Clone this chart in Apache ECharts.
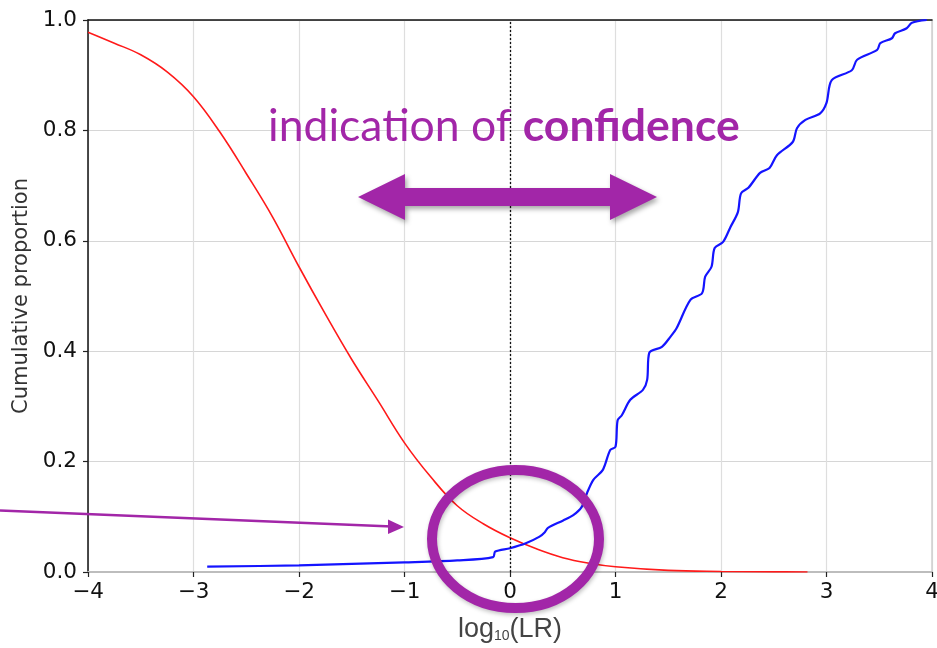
<!DOCTYPE html>
<html>
<head>
<meta charset="utf-8">
<script src="https://cdn.jsdelivr.net/npm/echarts@6/dist/echarts.min.js"></script>
<style>
  html, body { margin: 0; padding: 0; background: #fff; overflow: hidden; }
  #chart { width: 937px; height: 648px; }
</style>
</head>
<body>
<div id="chart"></div>
<script>
// Cumulative proportion of log10(LR) values for two populations
const redX = [-4, -3.75, -3.5, -3.25, -3.0, -2.75, -2.5, -2.25, -2.0, -1.75, -1.5, -1.25, -1.0, -0.75, -0.5, -0.25, 0.0, 0.25, 0.5, 0.75, 1.0, 1.5, 2.0, 2.5, 2.82];
const redY = [0.978, 0.958, 0.937, 0.906, 0.861, 0.797, 0.722, 0.643, 0.553, 0.467, 0.385, 0.31, 0.234, 0.172, 0.12, 0.087, 0.062, 0.042, 0.026, 0.016, 0.0096, 0.003, 0.001, 0.0003, 0.0];

const blueX = [-2.87, -2.0, -1.0, -0.5, -0.16, -0.14, 0.0, 0.15, 0.28, 0.33, 0.36, 0.5, 0.6, 0.68, 0.73, 0.79, 0.88, 0.95, 1.0, 1.02, 1.06, 1.14, 1.26, 1.30, 1.32, 1.44, 1.52, 1.58, 1.71, 1.82, 1.85, 1.91, 1.94, 2.02, 2.09, 2.16, 2.19, 2.26, 2.37, 2.46, 2.53, 2.68, 2.72, 2.80, 2.94, 3.0, 3.05, 3.24, 3.29, 3.48, 3.51, 3.62, 3.65, 3.76, 3.81, 3.95];
const blueY = [0.0097, 0.012, 0.0175, 0.021, 0.027, 0.037, 0.043, 0.052, 0.064, 0.072, 0.08, 0.093, 0.103, 0.118, 0.143, 0.167, 0.185, 0.221, 0.227, 0.275, 0.284, 0.312, 0.33, 0.348, 0.397, 0.408, 0.426, 0.442, 0.493, 0.505, 0.535, 0.553, 0.587, 0.598, 0.625, 0.652, 0.686, 0.696, 0.723, 0.732, 0.755, 0.779, 0.804, 0.819, 0.831, 0.85, 0.891, 0.909, 0.928, 0.946, 0.958, 0.967, 0.976, 0.985, 0.995, 1.0];

const xTicks = [-4, -3, -2, -1, 0, 1, 2, 3, 4];
const yTicks = [0, 0.2, 0.4, 0.6, 0.8, 1.0];

const purple = '#a226a8';
const tickFont = 'DejaVu Sans';

const zip = (xs, ys) => xs.map((x, i) => [x, ys[i]]);

const chart = echarts.init(document.getElementById('chart'), null, { renderer: 'canvas' });

chart.setOption({
  animation: false,
  backgroundColor: '#fff',
  grid: { left: 88, right: 5, top: 20, bottom: 76, containLabel: false, outerBoundsMode: 'none' },
  xAxis: [{
    type: 'value',
    min: xTicks[0], max: xTicks[xTicks.length - 1], interval: 1,
    name: 'log{s|10}(LR)',
    nameLocation: 'middle',
    nameGap: 44,
    nameTextStyle: {
      fontFamily: 'Liberation Sans', fontSize: 27, color: '#444',
      rich: { s: { fontFamily: 'Liberation Sans', fontSize: 14, color: '#444', verticalAlign: 'bottom', padding: [13, 0, 0, 0] } }
    },
    axisLine: { show: true, onZero: false, lineStyle: { color: '#bdbdbd', width: 2 } },
    axisTick: { show: true, inside: false, length: 5, lineStyle: { color: '#222', width: 1.2 } },
    axisLabel: {
      fontFamily: tickFont, fontSize: 21.5, color: '#111', margin: 9,
      formatter: v => String(v).replace('-', '\u2212')
    },
    splitLine: { show: true, lineStyle: { color: '#dedede', width: 1.2 } }
  }, {
    type: 'value', position: 'top',
    min: xTicks[0], max: xTicks[xTicks.length - 1],
    axisLine: { show: true, onZero: false, lineStyle: { color: '#111', width: 1.5 } },
    axisTick: { show: false }, axisLabel: { show: false }, splitLine: { show: false }
  }],
  yAxis: [{
    type: 'value',
    min: yTicks[0], max: yTicks[yTicks.length - 1], interval: 0.2,
    name: 'Cumulative proportion',
    nameLocation: 'middle',
    nameGap: 52,
    nameTextStyle: { fontFamily: 'DejaVu Sans', fontSize: 21, color: '#333' },
    axisLine: { show: true, onZero: false, lineStyle: { color: '#111', width: 1.5 } },
    axisTick: { show: true, inside: false, length: 5, lineStyle: { color: '#222', width: 1.2 } },
    axisLabel: {
      fontFamily: tickFont, fontSize: 21.5, color: '#111', margin: 11,
      formatter: v => v.toFixed(1)
    },
    splitLine: { show: true, lineStyle: { color: '#d6d6d6', width: 1.2 } }
  }, {
    type: 'value', position: 'right',
    min: yTicks[0], max: yTicks[yTicks.length - 1],
    axisLine: { show: true, onZero: false, lineStyle: { color: '#cfcfcf', width: 1.5 } },
    axisTick: { show: false }, axisLabel: { show: false }, splitLine: { show: false }
  }],
  series: [{
    name: 'red',
    type: 'line',
    data: zip(redX, redY),
    showSymbol: false,
    smooth: 0.4,
    lineStyle: { color: '#ff1a1a', width: 1.6 },
    z: 3,
    markLine: {
      silent: true,
      symbol: 'none',
      label: { show: false },
      lineStyle: { color: '#111', type: [2, 2], width: 1.3 },
      data: [{ xAxis: 0 }]
    }
  }, {
    name: 'blue',
    type: 'line',
    data: zip(blueX, blueY),
    showSymbol: false,
    smooth: 0.3,
    lineStyle: { color: '#1414ff', width: 2.2 },
    z: 4
  }],
  graphic: [
    {
      type: 'text', left: 268, top: 104, z: 100,
      style: {
        text: '{a|indication of }{b|confidence}',
        rich: {
          a: { fontFamily: 'Lato', fontSize: 44.5, fill: purple, fontWeight: 'normal' },
          b: { fontFamily: 'Lato', fontSize: 44.5, fill: purple, fontWeight: 'bold' }
        }
      }
    },
    {
      type: 'polygon', z: 100,
      shape: { points: [[358, 197], [405, 174], [405, 188], [610, 188], [610, 174], [657, 197], [610, 220], [610, 206], [405, 206], [405, 220]] },
      style: { fill: purple, shadowBlur: 5, shadowOffsetX: 2, shadowOffsetY: 3, shadowColor: 'rgba(0,0,0,0.35)' }
    },
    {
      type: 'ellipse', z: 100,
      shape: { cx: 515.5, cy: 539, rx: 83.5, ry: 69 },
      style: { fill: 'none', stroke: purple, lineWidth: 10, shadowBlur: 4, shadowOffsetX: 1, shadowOffsetY: 2, shadowColor: 'rgba(0,0,0,0.25)' }
    },
    {
      type: 'line', z: 100,
      shape: { x1: 0, y1: 510.5, x2: 392, y2: 526.5 },
      style: { stroke: purple, lineWidth: 2.5 }
    },
    {
      type: 'polygon', z: 100,
      shape: { points: [[404, 527], [388, 519.5], [388, 534]] },
      style: { fill: purple }
    }
  ]
});
</script>
</body>
</html>
